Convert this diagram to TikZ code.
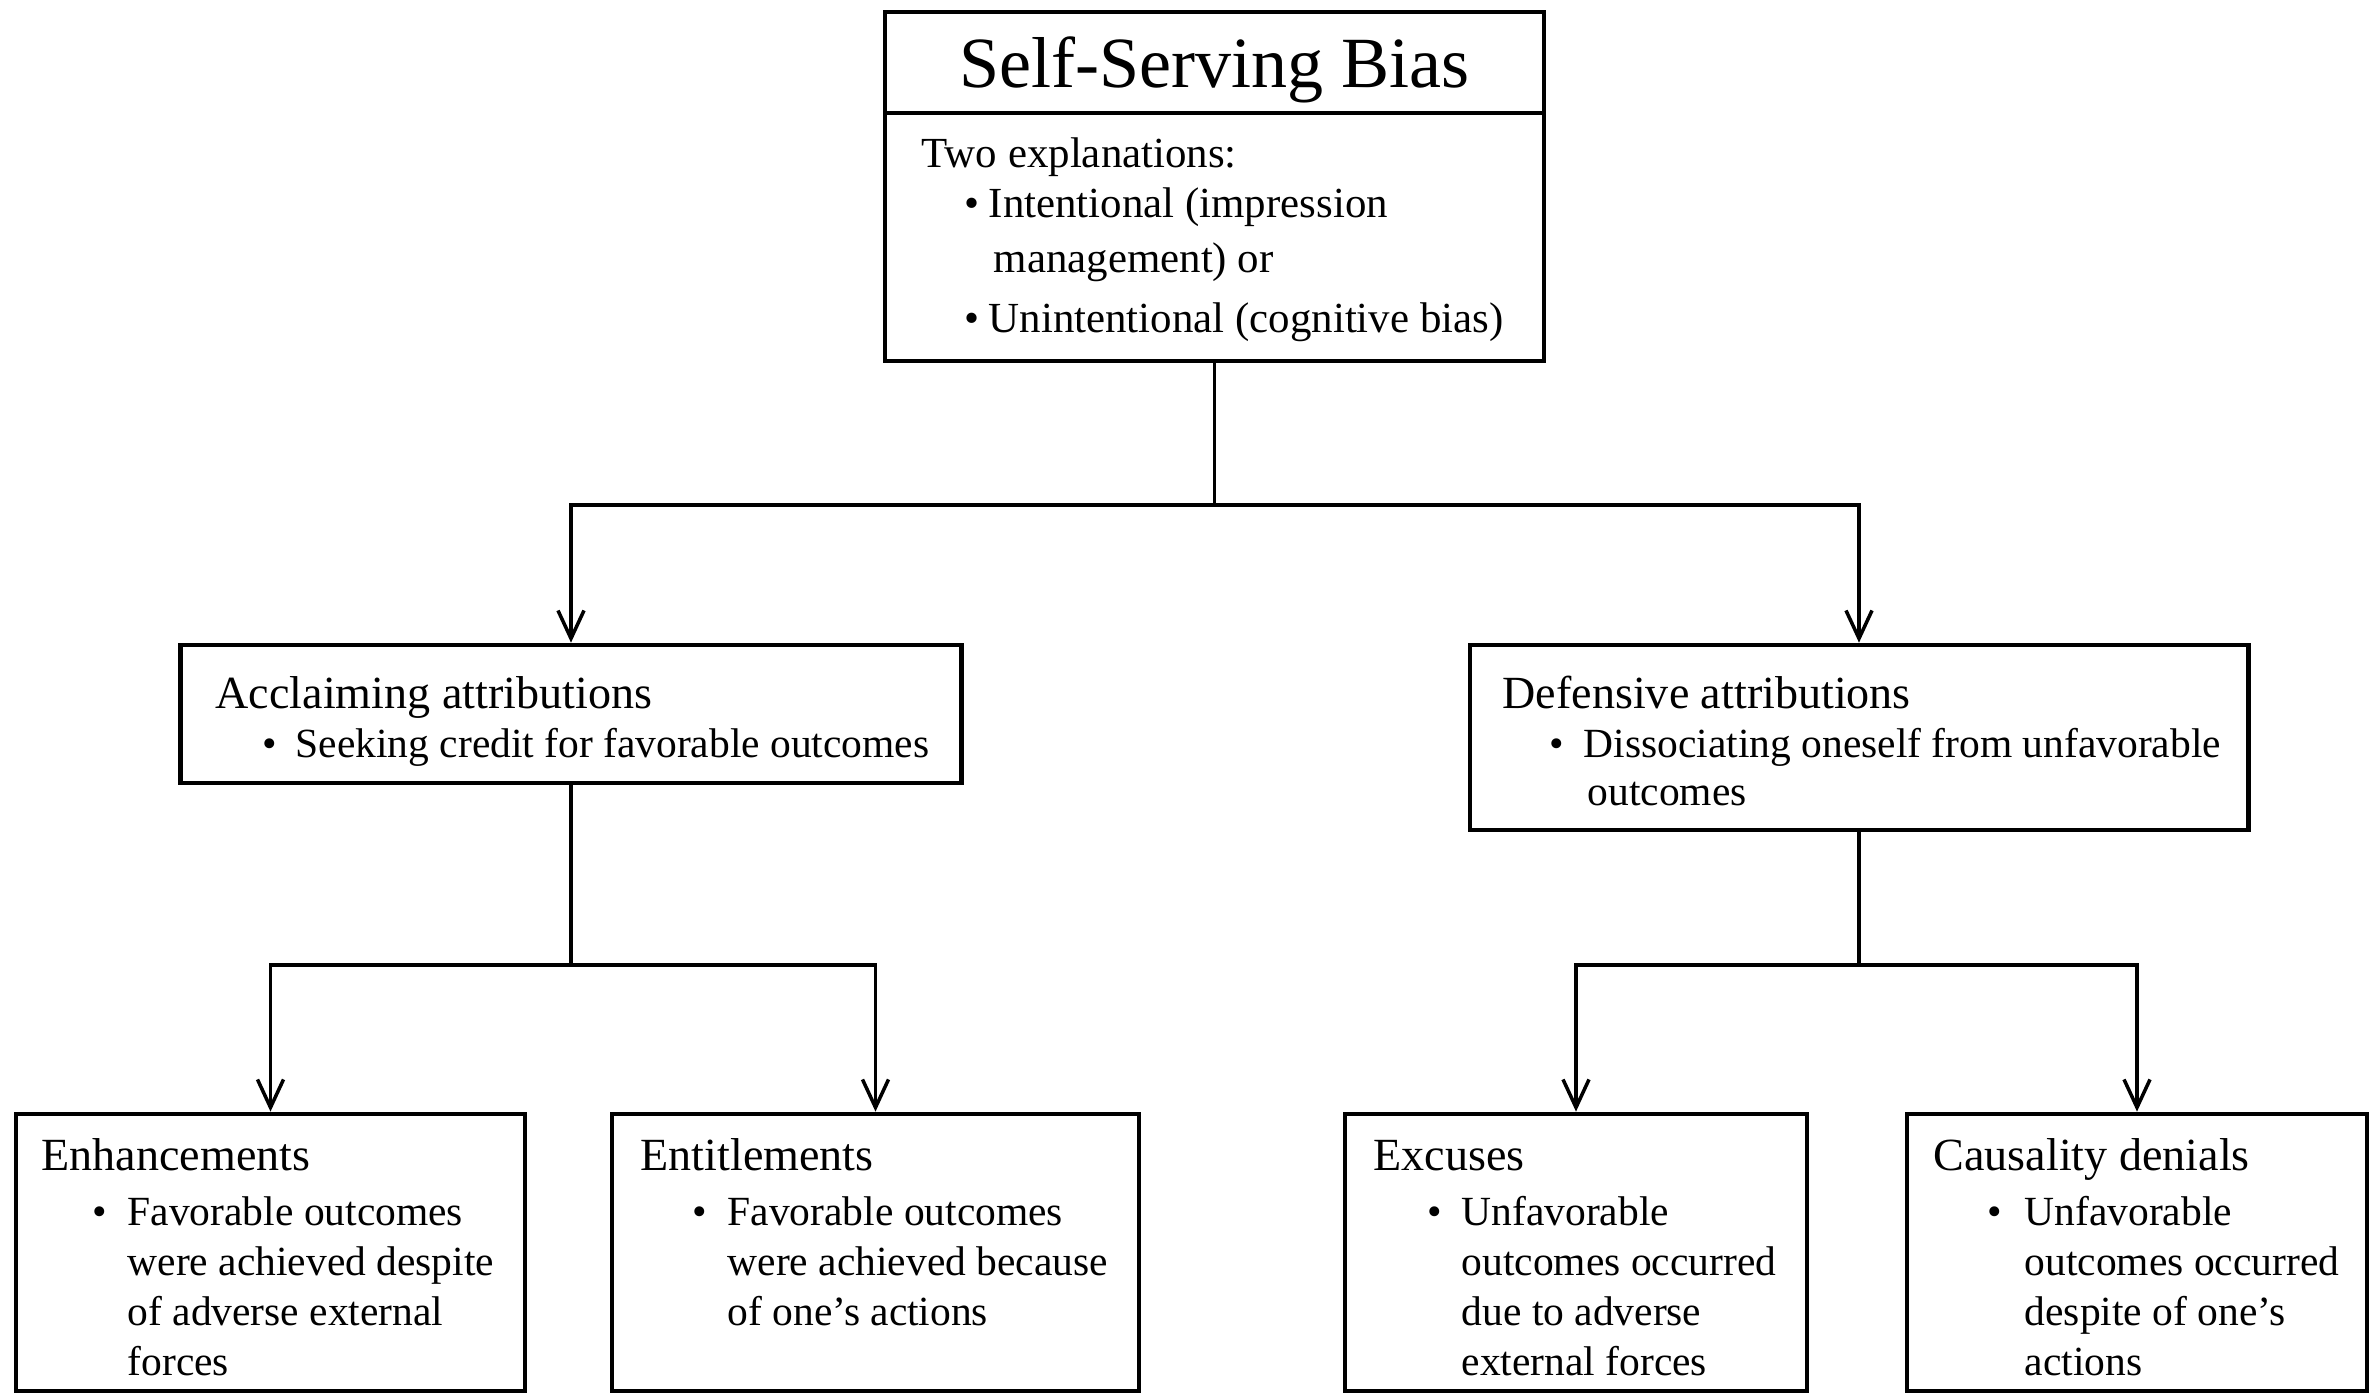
\documentclass[tikz,border=0pt]{standalone}
\usepackage{fontspec}
\setmainfont{Liberation Serif}
\usetikzlibrary{arrows.meta}
\begin{document}
\begin{tikzpicture}[x=0.01cm,y=-0.01cm,
  box/.style={draw, line width=1.3pt, inner sep=0pt, fill=white},
  conn/.style={line width=1pt},
  arr/.style={conn, -{Straight Barb[length=2.8mm, width=2.6mm, line width=1pt]}},
  txt/.style={anchor=base west, inner sep=0pt, font=\fontsize{11.8}{14}\selectfont},
  toptxt/.style={anchor=base west, inner sep=0pt, font=\fontsize{12.2}{14}\selectfont},
  head/.style={anchor=base west, inner sep=0pt, font=\fontsize{13.1}{15}\selectfont},
  ttl/.style={anchor=base, inner sep=0pt, font=\fontsize{20.5}{24}\selectfont}]
\useasboundingbox[fill=white] (0,0) rectangle (2375,1394);

% boxes
\node[box, minimum width=6.59cm, minimum height=3.49cm] (top) at (1214.5,186.5) {};
\draw[line width=1.3pt] (885,113) -- (1544,113);
\node[box, minimum width=7.80cm, minimum height=1.38cm] (accl) at (571,714) {};
\node[box, minimum width=7.78cm, minimum height=1.85cm] (def) at (1859,737.5) {};
\node[box, minimum width=5.09cm, minimum height=2.77cm] (enh) at (270.5,1252.5) {};
\node[box, minimum width=5.27cm, minimum height=2.77cm] (ent) at (875.5,1252.5) {};
\node[box, minimum width=4.62cm, minimum height=2.77cm] (exc) at (1576,1252.5) {};
\node[box, minimum width=4.60cm, minimum height=2.77cm] (cau) at (2137,1252.5) {};

% connectors
\coordinate (j1) at (1214.5,505);
\coordinate (j2) at (571,965);
\coordinate (j3) at (1859,965);
\draw[conn] (top.south) -- (j1);
\draw[arr] (j1) -| (accl.north);
\draw[arr] (j1) -| (def.north);
\draw[conn] (accl.south) -- (j2);
\draw[arr] (j2) -| (enh.north);
\draw[arr] (j2) -| (ent.north);
\draw[conn] (def.south) -- (j3);
\draw[arr] (j3) -| (exc.north);
\draw[arr] (j3) -| (cau.north);

% top box text
\node[ttl] (title) at (1214.5,88) {Self-Serving Bias};
\node[toptxt] (t1) at (921,168) {Two explanations:};
\node[toptxt] (t2b) at (964,218) {•};
\node[toptxt] (t2) at (988,218) {Intentional (impression};
\node[toptxt] (t3) at (993,272) {management) or};
\node[toptxt] (t4b) at (964,333) {•};
\node[toptxt] (t4) at (988,333) {Unintentional (cognitive bias)};

% acclaiming
\node[head] (a1) at (215,708) {Acclaiming attributions};
\node[txt] (a2b) at (262,757) {•};
\node[txt] (a2) at (295,757) {Seeking credit for favorable outcomes};

% defensive
\node[head] (d1) at (1502,708) {Defensive attributions};
\node[txt] (d2b) at (1549,757) {•};
\node[txt] (d2) at (1583,757) {Dissociating oneself from unfavorable};
\node[txt] (d3) at (1587,805) {outcomes};

% enhancements
\node[head] (e1) at (41,1170) {Enhancements};
\node[txt] (e2b) at (92,1225) {•};
\node[txt] (e2) at (127,1225) {Favorable outcomes};
\node[txt] (e3) at (127,1275) {were achieved despite};
\node[txt] (e4) at (127,1325) {of adverse external};
\node[txt] (e5) at (127,1375) {forces};

% entitlements
\node[head] (n1) at (640,1170) {Entitlements};
\node[txt] (n2b) at (692,1225) {•};
\node[txt] (n2) at (727,1225) {Favorable outcomes};
\node[txt] (n3) at (727,1275) {were achieved because};
\node[txt] (n4) at (727,1325) {of one’s actions};

% excuses
\node[head] (x1) at (1373,1170) {Excuses};
\node[txt] (x2b) at (1427,1225) {•};
\node[txt] (x2) at (1461,1225) {Unfavorable};
\node[txt] (x3) at (1461,1275) {outcomes occurred};
\node[txt] (x4) at (1461,1325) {due to adverse};
\node[txt] (x5) at (1461,1375) {external forces};

% causality denials
\node[head] (c1) at (1933,1170) {Causality denials};
\node[txt] (c2b) at (1987,1225) {•};
\node[txt] (c2) at (2024,1225) {Unfavorable};
\node[txt] (c3) at (2024,1275) {outcomes occurred};
\node[txt] (c4) at (2024,1325) {despite of one’s};
\node[txt] (c5) at (2024,1375) {actions};
\end{tikzpicture}
\end{document}
